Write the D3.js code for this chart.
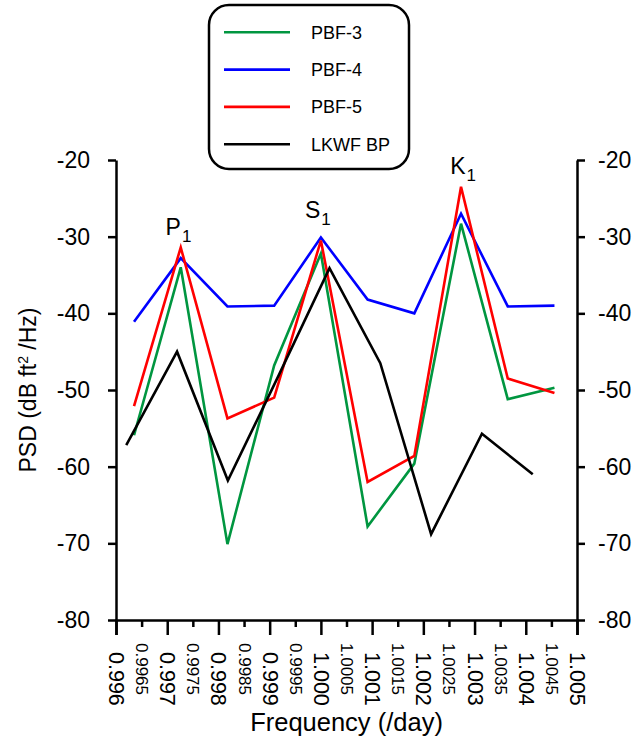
<!DOCTYPE html>
<html>
<head>
<meta charset="utf-8">
<script src="https://cdn.jsdelivr.net/npm/d3@7"></script>
<style>
  html, body { margin: 0; padding: 0; background: #fff; }
  svg { display: block; font-family: "Liberation Sans", Arial, sans-serif; }
</style>
</head>
<body>
<svg id="chart" width="638" height="740"></svg>
<script>
// ---- Data ----
const freqPBF = [0.996352, 0.997264, 0.998176, 0.999088, 1.000000, 1.000912, 1.001824, 1.002736, 1.003648, 1.004560];
const pbf3 = [-55.9, -34.0, -70.1, -46.8, -32.2, -67.8, -59.6, -28.3, -51.2, -49.7];
const pbf4 = [-41.1, -32.8, -39.1, -39.0, -30.1, -38.2, -40.0, -27.0, -39.1, -39.0];
const pbf5 = [-52.1, -31.4, -53.7, -51.0, -30.5, -62.0, -58.6, -23.5, -48.5, -50.4];
const freqLKWF = [0.996200, 0.997192, 0.998184, 0.999176, 1.000168, 1.001160, 1.002152, 1.003144, 1.004136];
const lkwf = [-57.2, -45.0, -61.8, -48.1, -34.1, -46.5, -68.8, -55.7, -61.0];

const seriesNames = ["PBF-3", "PBF-4", "PBF-5", "LKWF BP"];
const seriesColors = ["#009640", "#0000ff", "#ff0000", "#000000"];

const xTicks = d3.range(0, 19).map(i => +(0.996 + i * 0.0005).toFixed(4));
const yTicks = [-80, -70, -60, -50, -40, -30, -20];

const peakLabels = [
  { name: "P", sub: "1", f: 0.99726, v: -32.8 },
  { name: "S", sub: "1", f: 1.00000, v: -30.1 },
  { name: "K", sub: "1", f: 1.00274, v: -23.5 }
];

// ---- Layout ----
const svg = d3.select("#chart");
const pL = 116, pR = 577, pT = 160, pB = 620;
const x = d3.scaleLinear().domain([0.996, 1.005]).range([pL, pR]);
const y = d3.scaleLinear().domain([-80, -20]).range([pB, pT]);

const axisW = 2.5;
const yFmt = v => String(v);

// Left axis
const gL = svg.append("g").attr("transform", `translate(${pL},0)`)
  .call(d3.axisLeft(y).tickValues(yTicks).tickFormat(yFmt).tickSize(8).tickSizeOuter(0).tickPadding(18));
// Right axis
const gR = svg.append("g").attr("transform", `translate(${pR},0)`)
  .call(d3.axisRight(y).tickValues(yTicks).tickFormat(yFmt).tickSize(8).tickSizeOuter(0).tickPadding(13));
[gL, gR].forEach(g => {
  g.attr("font-family", "Liberation Sans, Arial, sans-serif");
  g.selectAll("text").attr("font-size", 23).attr("fill", "#000");
});

// Bottom axis
const isMajor = v => Math.abs(Math.round(v * 1000) - v * 1000) < 1e-6;
const gB = svg.append("g").attr("transform", `translate(0,${pB})`)
  .call(d3.axisBottom(x).tickValues(xTicks).tickSizeOuter(0).tickSize(15)
    .tickFormat(v => isMajor(v) ? v.toFixed(3) : v.toFixed(4)));
gB.attr("font-family", "Liberation Sans, Arial, sans-serif");
gB.selectAll(".tick line").attr("y2", d => isMajor(d) ? 15 : 7);
gB.selectAll(".tick text")
  .attr("y", null).attr("dy", "0.35em")
  .attr("text-anchor", "start")
  .attr("transform", d => `translate(0,${isMajor(d) ? 32 : 23}) rotate(90)`)
  .attr("font-size", d => isMajor(d) ? 21.5 : 17)
  .attr("fill", "#000");

[gL, gR, gB].forEach(g => {
  g.selectAll("path.domain").attr("stroke", "#000").attr("stroke-width", axisW);
  g.selectAll(".tick line").attr("stroke", "#000").attr("stroke-width", axisW);
});

// ---- Lines ----
const line = d3.line().x(d => x(d[0])).y(d => y(d[1]));
const allSeries = [
  { xs: freqPBF, ys: pbf3 },
  { xs: freqPBF, ys: pbf4 },
  { xs: freqPBF, ys: pbf5 },
  { xs: freqLKWF, ys: lkwf }
];
allSeries.forEach((s, i) => {
  svg.append("path")
    .datum(s.xs.map((f, j) => [f, s.ys[j]]))
    .attr("d", line)
    .attr("fill", "none")
    .attr("stroke", seriesColors[i])
    .attr("stroke-width", 2.6)
    .attr("stroke-linejoin", "miter");
});

// ---- Peak labels ----
const peakDy = [23, 19.5, 13];
const peakDx = [15, 16, 11];
peakLabels.forEach((p, i) => {
  const t = svg.append("text")
    .attr("x", x(p.f) - peakDx[i])
    .attr("y", y(p.v) - peakDy[i])
    .attr("font-size", 23)
    .attr("fill", "#000");
  t.append("tspan").text(p.name);
  t.append("tspan").attr("font-size", 17).attr("dy", 7).attr("dx", 1).text(p.sub);
});

// ---- Axis titles ----
const yt = svg.append("text")
  .attr("transform", `translate(36,${(pT + pB) / 2}) rotate(-90)`)
  .attr("text-anchor", "middle")
  .attr("font-size", 23)
  .attr("fill", "#000");
yt.append("tspan").text("PSD (dB ft");
yt.append("tspan").attr("font-size", 14).attr("dy", -8).text("2");
yt.append("tspan").attr("dy", 8).text(" /Hz)");

svg.append("text")
  .attr("x", (pL + pR) / 2)
  .attr("y", 731)
  .attr("text-anchor", "middle")
  .attr("font-size", 25.5)
  .attr("fill", "#000")
  .text("Frequency (/day)");

// ---- Legend ----
const lg = svg.append("g");
lg.append("rect")
  .attr("x", 209).attr("y", 5).attr("width", 200).attr("height", 164)
  .attr("rx", 20).attr("ry", 20)
  .attr("fill", "#fff").attr("stroke", "#000").attr("stroke-width", 2.5);
seriesNames.forEach((n, i) => {
  const yy = 32.3 + i * 37.3;
  lg.append("line").attr("x1", 224).attr("x2", 290).attr("y1", yy).attr("y2", yy)
    .attr("stroke", seriesColors[i]).attr("stroke-width", 2.6);
  lg.append("text").attr("x", 311).attr("y", yy).attr("dy", "0.35em")
    .attr("font-size", 18).attr("fill", "#000").text(n);
});
</script>
</body>
</html>
